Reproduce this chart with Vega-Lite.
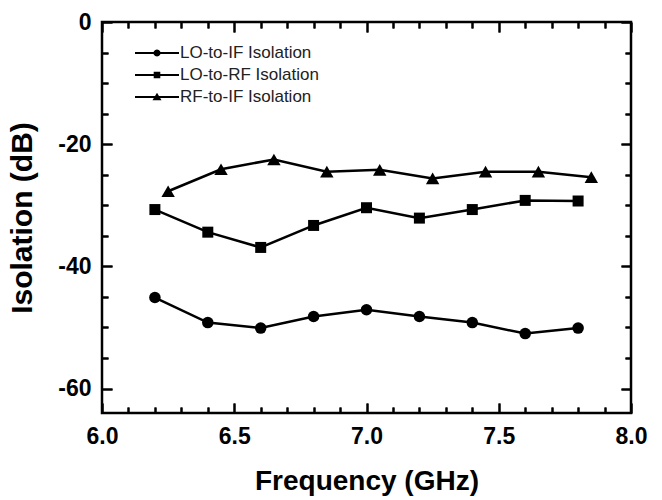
{
  "$schema": "https://vega.github.io/schema/vega-lite/v6.json",
  "width": 529,
  "height": 391,
  "autosize": {"type": "none"},
  "padding": {"left": 102, "top": 22, "right": 31, "bottom": 87},
  "background": "white",
  "config": {
    "view": {"stroke": "#000", "strokeWidth": 2.5},
    "axis": {"domain": false, "grid": false, "tickColor": "#000", "tickWidth": 2, "gridColor": "#000", "gridWidth": 2, "gridOpacity": 1}
  },
  "data": {
    "values": [
      {"series": "LO-to-IF Isolation", "freq": 6.2, "iso": -45.1},
      {"series": "LO-to-IF Isolation", "freq": 6.4, "iso": -49.2},
      {"series": "LO-to-IF Isolation", "freq": 6.6, "iso": -50.1},
      {"series": "LO-to-IF Isolation", "freq": 6.8, "iso": -48.2},
      {"series": "LO-to-IF Isolation", "freq": 7.0, "iso": -47.1},
      {"series": "LO-to-IF Isolation", "freq": 7.2, "iso": -48.2},
      {"series": "LO-to-IF Isolation", "freq": 7.4, "iso": -49.2},
      {"series": "LO-to-IF Isolation", "freq": 7.6, "iso": -51.0},
      {"series": "LO-to-IF Isolation", "freq": 7.8, "iso": -50.1},
      {"series": "LO-to-RF Isolation", "freq": 6.2, "iso": -30.7},
      {"series": "LO-to-RF Isolation", "freq": 6.4, "iso": -34.4},
      {"series": "LO-to-RF Isolation", "freq": 6.6, "iso": -36.9},
      {"series": "LO-to-RF Isolation", "freq": 6.8, "iso": -33.3},
      {"series": "LO-to-RF Isolation", "freq": 7.0, "iso": -30.4},
      {"series": "LO-to-RF Isolation", "freq": 7.2, "iso": -32.1},
      {"series": "LO-to-RF Isolation", "freq": 7.4, "iso": -30.7},
      {"series": "LO-to-RF Isolation", "freq": 7.6, "iso": -29.2},
      {"series": "LO-to-RF Isolation", "freq": 7.8, "iso": -29.3},
      {"series": "RF-to-IF Isolation", "freq": 6.25, "iso": -27.7},
      {"series": "RF-to-IF Isolation", "freq": 6.45, "iso": -24.1},
      {"series": "RF-to-IF Isolation", "freq": 6.65, "iso": -22.5},
      {"series": "RF-to-IF Isolation", "freq": 6.85, "iso": -24.5},
      {"series": "RF-to-IF Isolation", "freq": 7.05, "iso": -24.2},
      {"series": "RF-to-IF Isolation", "freq": 7.25, "iso": -25.6},
      {"series": "RF-to-IF Isolation", "freq": 7.45, "iso": -24.5},
      {"series": "RF-to-IF Isolation", "freq": 7.65, "iso": -24.5},
      {"series": "RF-to-IF Isolation", "freq": 7.85, "iso": -25.4}
    ]
  },
  "resolve": {"axis": {"x": "independent", "y": "independent"}},
  "layer": [
    {
      "mark": {"type": "line", "color": "#000", "strokeWidth": 2.5},
      "encoding": {
        "x": {"field": "freq", "type": "quantitative", "scale": {"domain": [6, 8], "nice": false, "zero": false},
          "axis": {"orient": "bottom", "values": [6, 6.5, 7, 7.5, 8], "tickSize": -10, "grid": true, "gridDash": [10, 371], "labelExpr": "format(datum.value, '.1f')", "labelPadding": 22, "labelFont": "Liberation Sans", "labelFontWeight": "bold", "labelFontSize": 23, "labelColor": "#000", "labelFlush": false, "labelOverlap": false, "labelBound": false, "title": "Frequency (GHz)", "titleFont": "Liberation Sans", "titleFontWeight": "bold", "titleColor": "#000", "titleFontSize": 28, "titlePadding": 19}},
        "y": {"field": "iso", "type": "quantitative", "scale": {"domain": [-64, 0], "nice": false, "zero": false},
          "axis": {"orient": "left", "values": [0, -20, -40, -60], "tickSize": -10, "grid": true, "gridDash": [10, 509], "labelExpr": "datum.value + ''", "labelPadding": 21, "labelFont": "Liberation Sans", "labelFontWeight": "bold", "labelFontSize": 23, "labelColor": "#000", "labelOverlap": false, "labelBound": false, "title": "Isolation (dB)", "titleFont": "Liberation Sans", "titleFontWeight": "bold", "titleColor": "#000", "titleFontSize": 30, "titlePadding": 20}},
        "detail": {"field": "series"}
      }
    },
    {
      "transform": [{"filter": {"field": "series", "equal": "LO-to-IF Isolation"}}],
      "mark": {"type": "point", "shape": "circle", "size": 133, "filled": true, "color": "#000", "opacity": 1},
      "encoding": {
        "x": {"field": "freq", "type": "quantitative", "scale": {"domain": [6, 8], "nice": false, "zero": false},
          "axis": {"orient": "top", "values": [6, 6.5, 7, 7.5, 8], "tickSize": -10, "labels": false, "title": null}},
        "y": {"field": "iso", "type": "quantitative", "scale": {"domain": [-64, 0], "nice": false, "zero": false},
          "axis": {"orient": "right", "values": [0, -20, -40, -60], "tickSize": -10, "labels": false, "title": null}}
      }
    },
    {
      "transform": [{"filter": {"field": "series", "equal": "LO-to-RF Isolation"}}],
      "mark": {"type": "point", "shape": "square", "size": 121, "filled": true, "color": "#000", "opacity": 1},
      "encoding": {
        "x": {"field": "freq", "type": "quantitative", "scale": {"domain": [6, 8], "nice": false, "zero": false},
          "axis": {"orient": "bottom", "values": [6.1, 6.2, 6.3, 6.4, 6.6, 6.7, 6.8, 6.9, 7.1, 7.2, 7.3, 7.4, 7.6, 7.7, 7.8, 7.9], "tickSize": -6, "grid": true, "gridDash": [6, 379], "labels": false, "title": null}},
        "y": {"field": "iso", "type": "quantitative", "scale": {"domain": [-64, 0], "nice": false, "zero": false},
          "axis": {"orient": "left", "values": [-5, -10, -15, -25, -30, -35, -45, -50, -55], "tickSize": -6, "grid": true, "gridDash": [6, 517], "labels": false, "title": null}}
      }
    },
    {
      "transform": [{"filter": {"field": "series", "equal": "RF-to-IF Isolation"}}],
      "mark": {"type": "point", "shape": "triangle-up", "size": 180, "filled": true, "color": "#000", "opacity": 1},
      "encoding": {
        "x": {"field": "freq", "type": "quantitative", "scale": {"domain": [6, 8], "nice": false, "zero": false},
          "axis": {"orient": "top", "values": [6.1, 6.2, 6.3, 6.4, 6.6, 6.7, 6.8, 6.9, 7.1, 7.2, 7.3, 7.4, 7.6, 7.7, 7.8, 7.9], "tickSize": -6, "labels": false, "title": null}},
        "y": {"field": "iso", "type": "quantitative", "scale": {"domain": [-64, 0], "nice": false, "zero": false},
          "axis": {"orient": "right", "values": [-5, -10, -15, -25, -30, -35, -45, -50, -55], "tickSize": -6, "labels": false, "title": null}}
      }
    },
    {
      "transform": [{"filter": "false"}],
      "mark": {"type": "point", "filled": true, "color": "#000", "opacity": 1, "size": 400},
      "encoding": {
        "x": {"field": "freq", "type": "quantitative", "scale": {"domain": [6, 8], "nice": false, "zero": false}, "axis": null},
        "y": {"field": "iso", "type": "quantitative", "scale": {"domain": [-64, 0], "nice": false, "zero": false}, "axis": null},
        "shape": {"field": "series", "type": "nominal",
          "scale": {"domain": ["LO-to-IF Isolation", "LO-to-RF Isolation", "RF-to-IF Isolation"],
            "range": [
              "M-2.2,-0.1H2.2V0.1H-2.2Z M0.36,0L0.312,0.18L0.18,0.312L0,0.36L-0.18,0.312L-0.312,0.18L-0.36,0L-0.312,-0.18L-0.18,-0.312L0,-0.36L0.18,-0.312L0.312,-0.18Z",
              "M-2.2,-0.1H2.2V0.1H-2.2Z M-0.33,-0.33H0.33V0.33H-0.33Z",
              "M-2.2,-0.1H2.2V0.1H-2.2Z M0,-0.42L0.45,0.33L-0.45,0.33Z"
            ]},
          "legend": {"title": null, "orient": "none", "legendX": 45, "legendY": 21, "padding": 0, "symbolSize": 400, "labelOffset": 13, "rowPadding": 4, "labelFont": "Liberation Sans", "labelFontSize": 17, "labelColor": "#222", "symbolStrokeWidth": 0, "symbolFillColor": "#000", "symbolOpacity": 1}}
      }
    }
  ]
}
